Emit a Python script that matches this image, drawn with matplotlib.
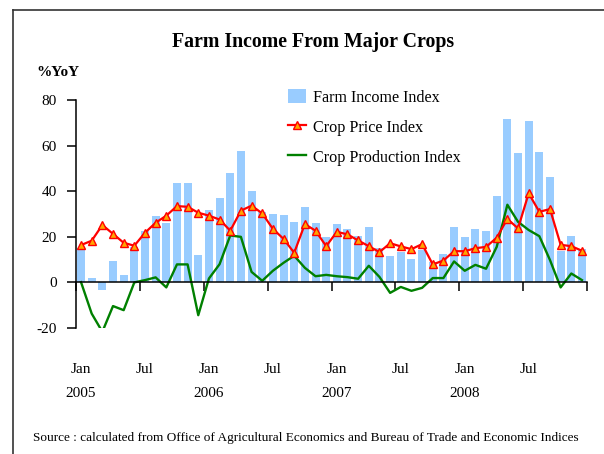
import matplotlib
matplotlib.use("Agg")
import matplotlib.pyplot as plt
import numpy as np
from matplotlib.lines import Line2D

plt.rcParams['font.family'] = ['Liberation Serif', 'DejaVu Serif']

years = [2005, 2006, 2007, 2008]
month_names = ["Jan", "Feb", "Mar", "Apr", "May", "Jun",
               "Jul", "Aug", "Sep", "Oct", "Nov", "Dec"]
months = [f"{m} {y}" for y in years for m in month_names]

farm_income = [15.1, 1.8, -3.4, 9.2, 3.1, 15.5, 22.6, 29.0, 26.0, 43.5, 43.5, 11.9,
               31.6, 37.0, 47.9, 57.7, 40.0, 31.0, 29.9, 29.5, 26.4, 33.0, 26.0, 19.8,
               25.5, 23.3, 20.4, 24.2, 14.9, 11.4, 13.2, 10.1, 14.1, 8.9, 12.3, 24.2,
               19.8, 23.3, 22.4, 37.8, 71.6, 56.8, 70.9, 57.3, 46.2, 13.6, 20.2, 14.4]

crop_price = [16.3, 18.2, 25.1, 21.2, 17.3, 16.0, 21.7, 26.1, 29.2, 33.4, 33.1, 30.5,
              29.2, 27.5, 22.6, 31.4, 33.6, 30.2, 23.4, 19.0, 12.9, 25.5, 22.6, 15.8,
              22.1, 21.0, 18.3, 15.8, 13.2, 17.1, 15.7, 14.5, 16.7, 7.8, 9.5, 13.6,
              13.6, 14.9, 15.5, 19.5, 27.8, 23.6, 39.0, 30.9, 32.1, 16.4, 15.8, 13.8]

crop_production = [0.0, -13.8, -21.8, -10.5, -12.3, -0.1, 0.9, 2.1, -2.3, 7.8, 7.8, -14.5,
                   1.6, 7.9, 20.5, 19.9, 4.5, 0.6, 5.0, 8.5, 11.6, 6.3, 2.6, 3.2,
                   2.6, 2.2, 1.5, 7.2, 2.3, -4.7, -2.1, -3.8, -2.5, 1.8, 1.8, 9.1,
                   5.0, 7.6, 5.9, 15.5, 34.0, 26.5, 22.9, 20.2, 9.7, -2.3, 3.8, 0.9]

tick_labels = ["Jan\n2005", "Jul", "Jan\n2006", "Jul", "Jan\n2007", "Jul", "Jan\n2008", "Jul"]
y_ticks = [-20, 0, 20, 40, 60, 80]

W, H = 604, 454
fig = plt.figure(figsize=(W / 100, H / 100), dpi=100)

# frame
fig.add_artist(Line2D([13 / W, 1.0], [1 - 10 / H, 1 - 10 / H], color='#333333', lw=1.2,
                      transform=fig.transFigure))
fig.add_artist(Line2D([13 / W, 13 / W], [0.0, 1 - 10 / H], color='#333333', lw=1.2,
                      transform=fig.transFigure))

left, right = 75.7 / W, 587.3 / W
top, bottom = 1 - 100 / H, 1 - 327.7 / H
ax = fig.add_axes([left, bottom, right - left, top - bottom])

x = np.arange(len(months))
bars = ax.bar(x, farm_income, width=0.75, color='#99CCFF', zorder=1)
prod_line, = ax.plot(x, crop_production, color='#008000', lw=1.7, zorder=2)
price_line, = ax.plot(x, crop_price, color='#FF0000', lw=1.6, marker='^', markersize=5.5,
                      markerfacecolor='#FFA500', markeredgecolor='#FF0000',
                      markeredgewidth=1.0, zorder=3)

ax.set_xlim(-0.5, len(months) - 0.5)
ax.set_ylim(-20, 80)

for s in ['top', 'right']:
    ax.spines[s].set_visible(False)
ax.spines['bottom'].set_position(('data', 0))
for s in ['left', 'bottom']:
    ax.spines[s].set_linewidth(1.1)
    ax.spines[s].set_color('black')

ax.set_yticks(y_ticks)
ax.set_yticklabels([str(v) for v in y_ticks])
ax.tick_params(axis='y', direction='out', length=6.5, width=1.1, pad=7, labelsize=11)

ax.set_xticks(np.arange(-0.5, len(months), 6))
ax.set_xticklabels([])
ax.set_xticks(np.arange(0, len(months), 6), minor=True)
ax.set_xticklabels(tick_labels, minor=True, linespacing=2.1)
ax.tick_params(axis='x', which='major', direction='out', length=6.5, width=1.1)
ax.tick_params(axis='x', which='minor', length=0, pad=58, labelsize=11)

fig.legend([bars, price_line, prod_line],
           ['Farm Income Index', 'Crop Price Index', 'Crop Production Index'],
           loc='upper left', bbox_to_anchor=(283 / W, 1 - 84 / H), frameon=False,
           fontsize=11.6, handlelength=1.1, handleheight=1.0, handletextpad=0.45,
           labelspacing=0.83, borderaxespad=0, borderpad=0.3)

fig.text(313 / W, 1 - 42 / H, "Farm Income From Major Crops", ha='center', va='center',
         fontsize=14.3, fontweight='bold')
fig.text(36 / W, 1 - 73 / H, "%YoY", ha='left', va='center', fontsize=11, fontweight='bold')
fig.text(33 / W, 1 - 438 / H,
         "Source : calculated from Office of Agricultural Economics and Bureau of Trade and Economic Indices",
         ha='left', va='center', fontsize=9.55)

fig.savefig("out.png", dpi=100)
